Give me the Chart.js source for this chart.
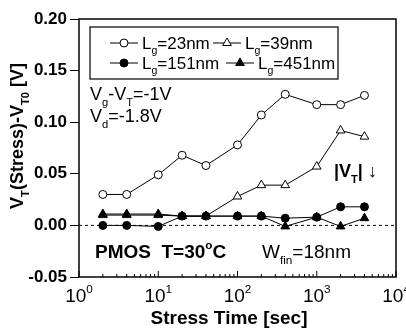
<!DOCTYPE html>
<html>
<head>
<meta charset="utf-8">
<script src="https://cdn.jsdelivr.net/npm/chart.js@4/dist/chart.umd.min.js"></script>
<style>
  html, body { margin: 0; padding: 0; background: #fff; }
  #wrap { width: 406px; height: 332px; }
</style>
</head>
<body>
<div id="wrap"><canvas id="myChart" width="406" height="332"></canvas></div>
<script>
// stress times [sec]
var stressTime = [2, 4, 10, 20, 40, 100, 200, 400, 1000, 2000, 4000];
// VT(stress) - VT0 [V]
var lg23 = [0.030, 0.030, 0.049, 0.068, 0.058, 0.078, 0.107, 0.127, 0.117, 0.117, 0.126];
var lg39 = [0.010, 0.010, 0.010, 0.009, 0.009, 0.028, 0.039, 0.039, 0.057, 0.092, 0.086];
var lg151 = [0.000, 0.000, -0.001, 0.009, 0.009, 0.009, 0.009, 0.007, 0.008, 0.018, 0.018];
var lg451 = [0.011, 0.011, 0.011, 0.009, 0.009, 0.009, 0.009, -0.001, 0.008, -0.001, 0.007];
var seriesNames = ['23nm', '39nm', '151nm', '451nm'];
var yTicks = [-0.05, 0.00, 0.05, 0.10, 0.15, 0.20];
var xDecades = [0, 1, 2, 3, 4];

var FONT = "'Liberation Sans', Arial, sans-serif";

function pts(vals) {
    return stressTime.map(function (t, i) { return { x: t, y: vals[i] }; });
}

function mkSet(name, vals, style, filled, order) {
    return {
        label: name,
        data: pts(vals),
        borderColor: '#000',
        borderWidth: 1,
        pointStyle: style,
        pointRadius: style === 'triangle' ? 5 : 4,
        pointBorderWidth: 1,
        pointBorderColor: '#000',
        pointBackgroundColor: filled ? '#000' : '#fff',
        tension: 0,
        order: order
    };
}

function richWidth(ctx, parts, size, weight) {
    var w = 0;
    parts.forEach(function (p) {
        var s = p[1] ? size * 0.62 : size;
        ctx.font = weight + ' ' + s + 'px ' + FONT;
        w += ctx.measureText(p[0]).width;
    });
    return w;
}

function drawRich(ctx, parts, x, y, size, weight, align) {
    if (align === 'center') x -= richWidth(ctx, parts, size, weight) / 2;
    ctx.textAlign = 'left';
    ctx.textBaseline = 'alphabetic';
    parts.forEach(function (p) {
        var s = p[1] ? size * 0.62 : size;
        var dy = p[1] === 'sub' ? size * 0.32 : (p[1] === 'sup' ? -size * 0.45 : 0);
        ctx.font = weight + ' ' + s + 'px ' + FONT;
        ctx.fillText(p[0], x, y + dy);
        x += ctx.measureText(p[0]).width;
    });
}

function drawMarker(ctx, style, x, y, filled) {
    ctx.beginPath();
    if (style === 'triangle') {
        var r = 5;
        ctx.moveTo(x, y - r);
        ctx.lineTo(x + r * 0.866, y + r * 0.5);
        ctx.lineTo(x - r * 0.866, y + r * 0.5);
        ctx.closePath();
    } else {
        ctx.arc(x, y, 4, 0, Math.PI * 2);
    }
    ctx.fillStyle = filled ? '#000' : '#fff';
    ctx.fill();
    ctx.lineWidth = 1;
    ctx.strokeStyle = '#000';
    ctx.stroke();
}

var zeroLine = {
    id: 'zeroLine',
    beforeDatasetsDraw: function (chart) {
        var ctx = chart.ctx, a = chart.chartArea;
        var y0 = chart.scales.y.getPixelForValue(0);
        ctx.save();
        ctx.strokeStyle = '#000';
        ctx.lineWidth = 1;
        ctx.setLineDash([3, 3]);
        ctx.beginPath();
        ctx.moveTo(a.left, y0);
        ctx.lineTo(a.right, y0);
        ctx.stroke();
        ctx.restore();
    }
};

var decorations = {
    id: 'decorations',
    afterDraw: function (chart) {
        var ctx = chart.ctx, a = chart.chartArea, xs = chart.scales.x;
        ctx.save();
        ctx.fillStyle = '#000';
        ctx.strokeStyle = '#000';

        // frame
        ctx.lineWidth = 1.5;
        ctx.strokeRect(a.left, a.top, a.right - a.left, a.bottom - a.top);

        // x ticks (inside) and labels
        ctx.lineWidth = 1;
        xDecades.forEach(function (d) {
            var base = Math.pow(10, d);
            for (var m = 1; m <= 9; m++) {
                var v = base * m;
                if (v > 10000) break;
                var px = xs.getPixelForValue(v);
                var len = m === 1 ? 6 : 3;
                ctx.beginPath();
                ctx.moveTo(px, a.bottom);
                ctx.lineTo(px, a.bottom - len);
                ctx.stroke();
            }
            var cx = xs.getPixelForValue(base);
            drawRich(ctx, [['10'], [String(d), 'sup']], cx, 302, 19, 'normal', 'center');
        });

        // x title
        drawRich(ctx, [['Stress Time [sec]']], 229, 324, 19, 'bold', 'center');

        // y title
        ctx.save();
        ctx.translate(23, 136);
        ctx.rotate(-Math.PI / 2);
        drawRich(ctx, [['V'], ['T', 'sub'], ['(Stress)-V'], ['T0', 'sub'], [' [V]']], 0, 0, 18, 'bold', 'center');
        ctx.restore();

        // annotations
        drawRich(ctx, [['V'], ['g', 'sub'], ['-V'], ['T', 'sub'], ['=-1V']], 90, 100, 18, 'normal');
        drawRich(ctx, [['V'], ['d', 'sub'], ['=-1.8V']], 90, 122, 18, 'normal');
        drawRich(ctx, [['|V'], ['T', 'sub'], ['| \u2193']], 334, 177, 18, 'bold');
        drawRich(ctx, [['PMOS  T=30'], ['o', 'sup'], ['C']], 95, 258, 19, 'bold');
        drawRich(ctx, [['W'], ['fin', 'sub'], ['=18nm']], 262, 258, 19, 'normal');

        // legend box
        ctx.lineWidth = 1.2;
        ctx.strokeRect(90, 27, 248, 52);
        var ds = chart.data.datasets;
        var lx = [110, 213, 110, 226];
        var ly = [43, 43, 63, 63];
        for (var i = 0; i < 4; i++) {
            ctx.lineWidth = 1;
            ctx.beginPath();
            ctx.moveTo(lx[i], ly[i]);
            ctx.lineTo(lx[i] + 28, ly[i]);
            ctx.stroke();
            drawMarker(ctx, ds[i].pointStyle, lx[i] + 14, ly[i], ds[i].pointBackgroundColor === '#000');
            ctx.fillStyle = '#000';
            drawRich(ctx, [['L'], ['g', 'sub'], ['=' + seriesNames[i]]], lx[i] + 32, ly[i] + 6, 17, 'normal');
        }
        ctx.restore();
    }
};

var ctx = document.getElementById('myChart');
var chart = new Chart(ctx, {
    type: 'line',
    data: {
        datasets: [
            mkSet('Lg=23nm', lg23, 'circle', false, 3),
            mkSet('Lg=39nm', lg39, 'triangle', false, 4),
            mkSet('Lg=151nm', lg151, 'circle', true, 2),
            mkSet('Lg=451nm', lg451, 'triangle', true, 1)
        ]
    },
    options: {
        responsive: false,
        animation: false,
        devicePixelRatio: 1,
        layout: { padding: { top: 19, right: 10, left: 0, bottom: 0 } },
        plugins: {
            legend: { display: false },
            tooltip: { enabled: false },
            title: { display: false }
        },
        scales: {
            x: {
                type: 'logarithmic',
                min: 1,
                max: 10000,
                grid: { display: false },
                border: { display: false },
                ticks: { display: false },
                afterFit: function (s) { s.height = 55; }
            },
            y: {
                min: -0.05,
                max: 0.2,
                afterBuildTicks: function (s) {
                    s.ticks = yTicks.map(function (v) { return { value: v }; });
                },
                ticks: {
                    color: '#000',
                    padding: 3,
                    font: { family: FONT, size: 17, weight: 'bold' },
                    callback: function (v) { return v.toFixed(2); }
                },
                grid: {
                    display: true,
                    drawOnChartArea: false,
                    drawTicks: true,
                    tickLength: 9,
                    color: '#000',
                    lineWidth: 1
                },
                border: { display: false },
                afterFit: function (s) { s.width = 79; }
            }
        }
    },
    plugins: [zeroLine, decorations]
});
</script>
</body>
</html>
